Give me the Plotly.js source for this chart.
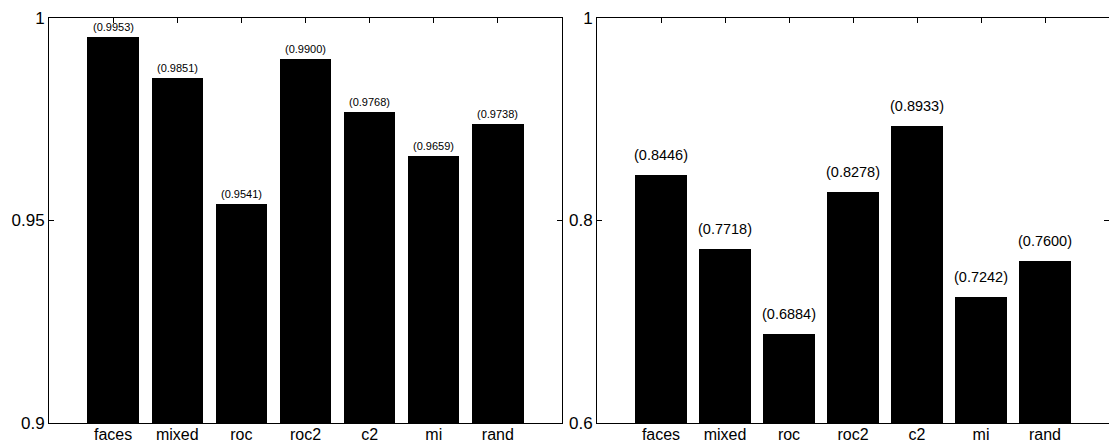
<!DOCTYPE html>
<html>
<head>
<meta charset="utf-8">
<script src="https://cdn.plot.ly/plotly-3.0.1.min.js"></script>
<style>html,body{margin:0;padding:0;background:#fff;}#chart{width:1109px;height:444px;}</style>
</head>
<body>
<div id="chart"></div>
<script>
const categories = ["faces", "mixed", "roc", "roc2", "c2", "mi", "rand"];
const leftValues = [0.9953, 0.9851, 0.9541, 0.9900, 0.9768, 0.9659, 0.9738];
const rightValues = [0.8446, 0.7718, 0.6884, 0.8278, 0.8933, 0.7242, 0.7600];
const leftTicks = [0.9, 0.95, 1];
const leftTickText = ["0.9", "0.95", "1"];
const rightTicks = [0.6, 0.8, 1];
const rightTickText = ["0.6", "0.8", "1"];

const positions = categories.map((c, i) => i + 1);
const fontFam = "Liberation Sans, Arial, Helvetica, sans-serif";

const traces = [
  {type: "bar", x: positions, y: leftValues, base: 0, width: 0.8, marker: {color: "#000", line: {width: 0}},
   xaxis: "x", yaxis: "y", hoverinfo: "skip"},
  {type: "bar", x: positions, y: rightValues, base: 0, width: 0.8, marker: {color: "#000", line: {width: 0}},
   xaxis: "x2", yaxis: "y2", hoverinfo: "skip"}
];

const annotations = [];
leftValues.forEach((v, i) => annotations.push({
  x: positions[i], y: v, xref: "x", yref: "y", text: "(" + v.toFixed(4) + ")",
  showarrow: false, yanchor: "bottom", yshift: 2, font: {size: 11, family: fontFam, color: "#000"}
}));
rightValues.forEach((v, i) => annotations.push({
  x: positions[i], y: v, xref: "x2", yref: "y2", text: "(" + v.toFixed(4) + ")",
  showarrow: false, yanchor: "bottom", yshift: 10, font: {size: 14.5, family: fontFam, color: "#000"}
}));

const xbase = {
  range: [0, 8], tickmode: "array", tickvals: positions, ticktext: categories,
  ticks: "inside", ticklen: 5, tickcolor: "#000", showline: true, linecolor: "#000", linewidth: 1,
  mirror: "ticks", showgrid: false, zeroline: false, fixedrange: true, ticklabelstandoff: -3,
  tickfont: {size: 16, family: fontFam, color: "#000"}
};
const ybase = {
  tickmode: "array", ticks: "inside", ticklen: 5, tickcolor: "#000", showline: true, linecolor: "#000",
  linewidth: 1, mirror: "ticks", showgrid: false, zeroline: false, fixedrange: true,
  tickfont: {size: 17, family: fontFam, color: "#000"}
};

const yDomain = [1 - 423 / 444, 1 - 18 / 444];
const layout = {
  width: 1109, height: 444, margin: {l: 0, r: 0, t: 0, b: 0},
  paper_bgcolor: "#fff", plot_bgcolor: "#fff", showlegend: false, bargap: 0,
  xaxis: Object.assign({}, xbase, {domain: [49 / 1109, 562 / 1109], anchor: "y"}),
  yaxis: Object.assign({}, ybase, {domain: yDomain, range: [0.9, 1], tickvals: leftTicks, ticktext: leftTickText, anchor: "x"}),
  xaxis2: Object.assign({}, xbase, {domain: [597 / 1109, 1109 / 1109], anchor: "y2"}),
  yaxis2: Object.assign({}, ybase, {domain: yDomain, range: [0.6, 1], tickvals: rightTicks, ticktext: rightTickText, anchor: "x2"}),
  annotations: annotations
};

Plotly.newPlot("chart", traces, layout, {displayModeBar: false, staticPlot: true});
</script>
</body>
</html>
